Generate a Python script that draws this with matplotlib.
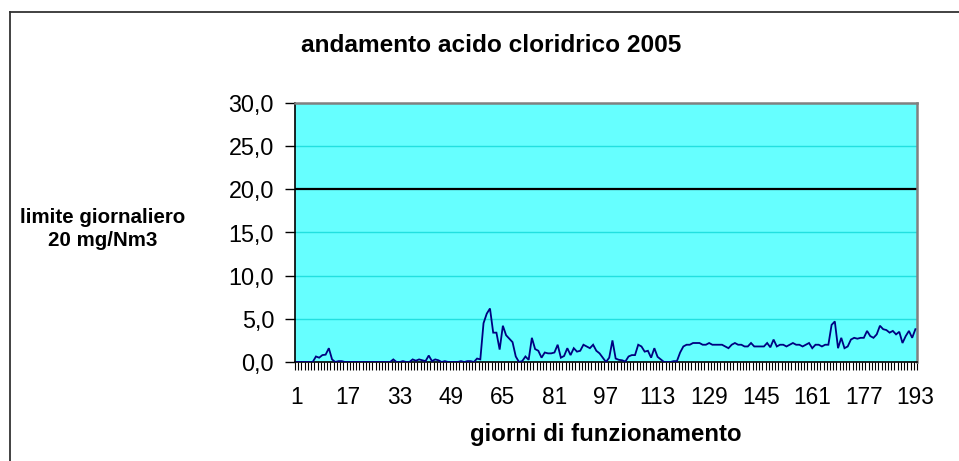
import matplotlib
matplotlib.use("Agg")
import matplotlib.pyplot as plt
import numpy as np
from matplotlib.lines import Line2D

plt.rcParams['font.family'] = ['Liberation Sans', 'DejaVu Sans']

title = "andamento acido cloridrico 2005"
xlabel = "giorni di funzionamento"
ylabel_lines = ["limite giornaliero", "20 mg/Nm3"]
limit_value = 20.0

values = [
    0, 0, 0, 0, 0, 0, 0.64, 0.5, 0.8, 0.85,            # 1-10
    1.6, 0.3, 0, 0.1, 0.1, 0, 0, 0, 0, 0,               # 11-20
    0, 0, 0, 0, 0, 0, 0, 0, 0, 0,                       # 21-30
    0.3, 0, 0, 0.1, 0, 0, 0.3, 0.15, 0.3, 0.2,          # 31-40
    0.1, 0.75, 0.1, 0.3, 0.2, 0, 0.1, 0, 0, 0,          # 41-50
    0, 0.1, 0, 0.1, 0.1, 0, 0.4, 0.3, 4.5, 5.6,         # 51-60
    6.2, 3.4, 3.4, 1.44, 4.2, 3.1, 2.7, 2.3, 0.64, 0,   # 61-70
    0.1, 0.64, 0.25, 2.8, 1.5, 1.3, 0.5, 1.1, 1.0, 1.0, # 71-80
    1.1, 2.0, 0.5, 0.7, 1.6, 0.8, 1.6, 1.2, 1.3, 2.0,   # 81-90
    1.8, 1.6, 2.0, 1.3, 1.0, 0.5, 0, 0.5, 2.5, 0.4,     # 91-100
    0.25, 0.2, 0.05, 0.64, 0.8, 0.8, 2.0, 1.8, 1.2, 1.3, # 101-110
    0.5, 1.6, 0.6, 0.3, 0, 0, 0, 0.1, 0.1, 1.1,         # 111-120
    1.8, 2.0, 2.0, 2.2, 2.2, 2.2, 2.0, 2.0, 2.2, 2.0,   # 121-130
    2.0, 2.0, 2.0, 1.8, 1.6, 2.0, 2.2, 2.0, 2.0, 1.8,   # 131-140
    1.8, 2.2, 1.8, 1.8, 1.8, 1.8, 2.2, 1.7, 2.6, 1.8,   # 141-150
    2.0, 2.0, 1.8, 2.0, 2.2, 2.0, 2.0, 1.8, 2.0, 2.2,   # 151-160
    1.6, 2.0, 2.0, 1.8, 2.0, 2.0, 4.3, 4.7, 1.6, 2.8,   # 161-170
    1.6, 1.8, 2.6, 2.8, 2.7, 2.8, 2.8, 3.6, 3.0, 2.8,   # 171-180
    3.2, 4.2, 3.8, 3.7, 3.4, 3.6, 3.2, 3.5, 2.2, 3.0,   # 181-190
    3.6, 2.8, 3.8,                                      # 191-193
]
days = list(range(1, len(values) + 1))
x_tick_labels = [1, 17, 33, 49, 65, 81, 97, 113, 129, 145, 161, 177, 193]
y_ticks = [0, 5, 10, 15, 20, 25, 30]

W, H = 959, 461
fig = plt.figure(figsize=(W / 100, H / 100), dpi=100)
fig.patch.set_facecolor('white')

# outer chart frame (left and top edges visible)
fig.add_artist(Line2D([10 / W, 10 / W], [0, 1 - 12 / H], color='#333333', lw=1.3,
                      transform=fig.transFigure))
fig.add_artist(Line2D([10 / W, 1], [1 - 12 / H, 1 - 12 / H], color='#333333', lw=1.3,
                      transform=fig.transFigure))

left, right, bottom, top = 295 / W, 917 / W, 1 - 362 / H, 1 - 103 / H
ax = fig.add_axes([left, bottom, right - left, top - bottom])
ax.set_facecolor('#66FFFF')

ax.set_xlim(0.5, len(values) + 0.5)
ax.set_ylim(0, 30)

for yv in y_ticks:
    if yv not in (0, 30, limit_value):
        ax.axhline(yv, color='#22E0E0', lw=1.0, zorder=1)
ax.axhline(limit_value, color='black', lw=1.6, zorder=2)

ax.plot(days, values, color='#000080', lw=1.3, zorder=3, solid_joinstyle='miter')

ax.set_yticks(y_ticks)
ax.set_yticklabels([f"{v:.1f}".replace('.', ',') for v in y_ticks])
ax.tick_params(axis='y', direction='out', length=7, width=1, pad=8,
               labelsize=16.8, colors='black')

ax.set_xticks(x_tick_labels)
ax.set_xticklabels([str(v) for v in x_tick_labels])
ax.set_xticks(np.arange(0.5, len(values) + 1, 1), minor=True)
ax.tick_params(axis='x', which='major', length=0, pad=17, labelsize=16.3)
ax.tick_params(axis='x', which='minor', direction='out', length=6, width=0.8)

for s in ('left', 'bottom'):
    ax.spines[s].set_color('black')
    ax.spines[s].set_linewidth(1.2)
for s in ('top', 'right'):
    ax.spines[s].set_color('#808080')
    ax.spines[s].set_linewidth(1.8)

fig.text(491 / W, 1 - 45 / H, title, ha='center', va='center',
         fontsize=17.6, fontweight='bold')
fig.text(606 / W, 1 - 441 / H, xlabel, ha='center', va='baseline',
         fontsize=17.3, fontweight='bold')
fig.text(103 / W, 1 - 217 / H, ylabel_lines[0], ha='center', va='center',
         fontsize=14.8, fontweight='bold')
fig.text(103 / W, 1 - 240 / H, ylabel_lines[1], ha='center', va='center',
         fontsize=14.8, fontweight='bold')

fig.savefig('out.png', dpi=100)
